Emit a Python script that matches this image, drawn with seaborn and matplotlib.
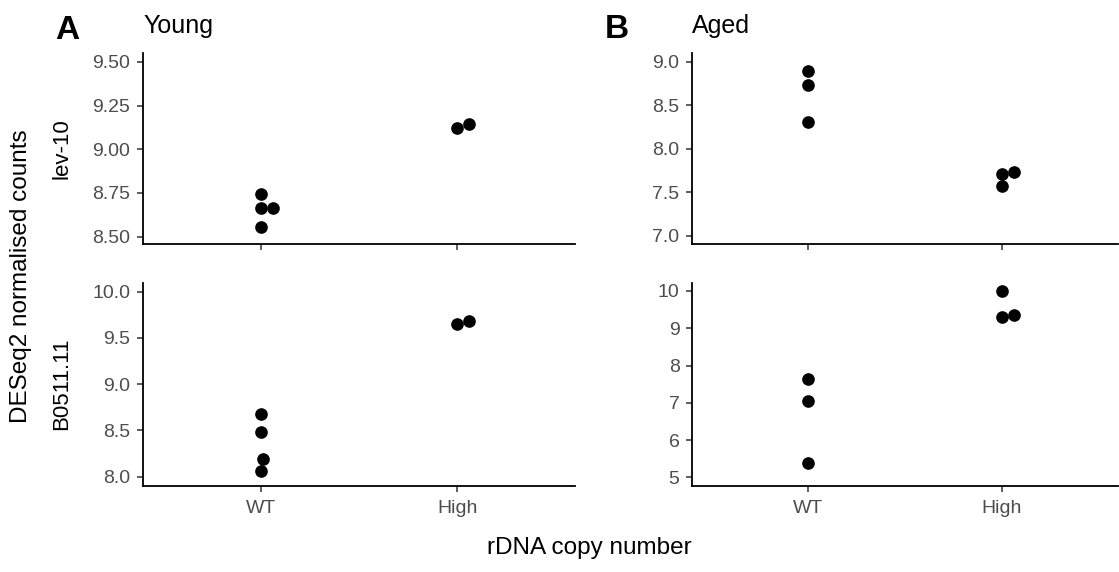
import matplotlib
matplotlib.use("Agg")
import matplotlib.pyplot as plt
import seaborn as sns
import pandas as pd

# values
groups = ["WT", "High"]
genes = ["lev-10", "B0511.11"]

young_lev10_wt = [8.743, 8.664, 8.664, 8.554]
young_lev10_high = [9.120, 9.145]
young_b0511_wt = [8.678, 8.483, 8.191, 8.065]
young_b0511_high = [9.651, 9.686]

aged_lev10_wt = [8.901, 8.736, 8.308]
aged_lev10_high = [7.716, 7.577, 7.731]
aged_b0511_wt = [7.630, 7.040, 5.376]
aged_b0511_high = [10.000, 9.294, 9.364]


def make_df(wt, high):
    return pd.DataFrame({
        "group": ["WT"] * len(wt) + ["High"] * len(high),
        "count": wt + high,
    })


sns.set_theme(style="ticks")
plt.rcParams["font.family"] = ["Liberation Sans", "DejaVu Sans"]

W, H = 1119, 572
fig = plt.figure(figsize=(W / 100, H / 100), dpi=100)


def px_axes(x0, x1, y0, y1):
    return fig.add_axes([x0 / W, 1 - y1 / H, (x1 - x0) / W, (y1 - y0) / H])


panels = [
    # (data, x-range px, y-range px, ylim, ticks, fmt)
    (make_df(young_lev10_wt, young_lev10_high), (142.7, 575), (53.3, 244),
     (8.458, 9.549), [8.5, 8.75, 9.0, 9.25, 9.5], "{:.2f}"),
    (make_df(young_b0511_wt, young_b0511_high), (142.7, 575), (282.7, 486),
     (7.90, 10.097), [8.0, 8.5, 9.0, 9.5, 10.0], "{:.1f}"),
    (make_df(aged_lev10_wt, aged_lev10_high), (692, 1118), (53.3, 244),
     (6.908, 9.10), [7.0, 7.5, 8.0, 8.5, 9.0], "{:.1f}"),
    (make_df(aged_b0511_wt, aged_b0511_high), (692, 1118), (282.7, 486),
     (4.77, 10.22), [5, 6, 7, 8, 9, 10], "{:.0f}"),
]

tick_grey = "#4D4D4D"
axes = []
for i, (df, xr, yr, ylim, ticks, fmt) in enumerate(panels):
    ax = px_axes(xr[0], xr[1], yr[0], yr[1])
    # swarm spacing computed with a slightly smaller dot (beeswarm-style overlap)
    sns.swarmplot(data=df, x="group", y="count", order=groups, color="black",
                  size=8.5, linewidth=0, ax=ax)
    # flipped while the swarm is laid out so that dodged dots go to the right
    ax.set_xlim(1.6, -0.6)
    ax.set_ylim(*ylim)
    ax.set_yticks(ticks)
    ax.set_yticklabels([fmt.format(t) for t in ticks])
    ax.set_xlabel("")
    ax.set_ylabel("")
    sns.despine(ax=ax)
    for s in ["left", "bottom"]:
        ax.spines[s].set_linewidth(1.3)
        ax.spines[s].set_color("black")
    ax.tick_params(axis="both", length=4, width=1.1, color="#333333",
                   labelcolor=tick_grey, labelsize=14)
    ax.tick_params(axis="y", pad=5)
    ax.tick_params(axis="x", pad=6)
    if i % 2 == 0:
        ax.set_xticklabels([])
    axes.append(ax)

# run the swarm layout once, then freeze it and draw the dots at full size
fig.canvas.draw()
for ax in axes:
    for coll in ax.collections:
        if "draw" in coll.__dict__:
            del coll.draw
        coll.set_sizes([9.1 ** 2])
    ax.set_xlim(-0.6, 1.6)

# titles and panel letters
fig.text(55 / W, 1 - 39 / H, "A", fontsize=24, fontweight="bold", va="baseline", color="black")
fig.text(143 / W, 1 - 33 / H, "Young", fontsize=18, va="baseline", color="black")
fig.text(605 / W, 1 - 38 / H, "B", fontsize=24, fontweight="bold", va="baseline", color="black")
fig.text(692 / W, 1 - 33 / H, "Aged", fontsize=18, va="baseline", color="black")

# strip labels for the gene rows
fig.text(62 / W, 1 - 149 / H, genes[0], fontsize=16, rotation=90, ha="center",
         va="center", color="black")
fig.text(62 / W, 1 - 384 / H, genes[1], fontsize=16, rotation=90, ha="center",
         va="center", color="black")

fig.text(21 / W, 1 - 276 / H, "DESeq2 normalised counts", fontsize=17.5, rotation=90,
         ha="center", va="center", color="black")
fig.text(589.5 / W, 1 - 548 / H, "rDNA copy number", fontsize=17.5, ha="center",
         va="center", color="black")

fig.savefig("out.png", dpi=100)
